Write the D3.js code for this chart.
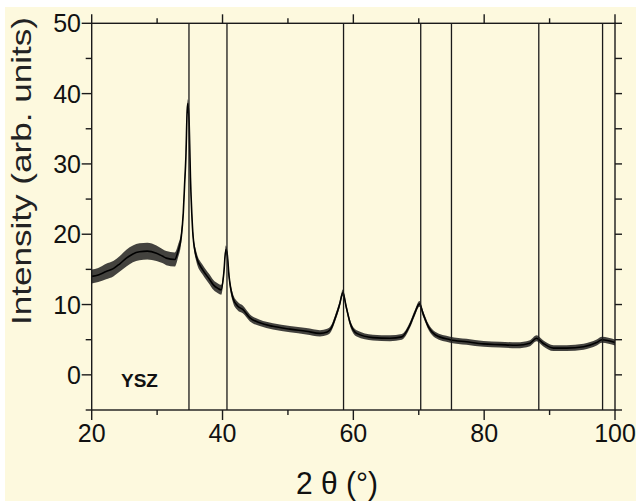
<!DOCTYPE html>
<html><head><meta charset="utf-8">
<script src="https://cdn.jsdelivr.net/npm/d3@7"></script>
<style>html,body{margin:0;padding:0;background:#fff;}svg{display:block;}</style>
</head><body>
<svg id="c" width="636" height="503"></svg>
<script>
// 2θ positions (degrees) and intensities (arb. units)
const twoTheta = [20.0,21.0,22.2,23.3,24.3,25.3,26.3,27.3,28.5,29.9,30.8,31.4,32.7,33.2,33.7,34.0,34.2,34.4,34.6,34.7,34.9,35.1,35.3,35.5,36.0,37.0,38.0,38.6,39.3,39.8,40.2,40.5,40.7,41.0,41.6,42.3,43.1,44.2,45.7,47.7,50.3,52.8,54.9,56.0,56.6,57.2,57.9,58.4,58.9,59.5,60.5,63.0,65.6,67.4,68.6,69.4,70.1,70.7,71.5,72.5,74.8,77.3,79.9,82.4,85.0,87.0,88.0,89.0,90.6,92.6,95.2,97.2,98.0,100.0];
const intensity = [14.0,14.2,14.7,15.1,15.8,16.6,17.2,17.5,17.6,17.3,16.9,16.6,16.4,17.6,19.7,23.0,27.0,31.0,37.7,38.6,35.8,28.0,23.0,19.7,16.8,14.9,13.6,12.8,12.3,12.1,14.5,17.8,17.3,14.0,10.9,9.8,9.3,8.1,7.4,6.9,6.5,6.2,5.9,6.1,6.6,8.0,10.0,11.7,9.7,7.4,5.9,5.3,5.2,5.4,7.0,8.8,10.1,8.6,6.8,5.7,5.0,4.7,4.4,4.3,4.2,4.5,5.2,4.5,3.8,3.8,4.0,4.6,5.0,4.6];
// half-width of the noise band seen around the trace
const noise = [1.0,1.0,1.1,1.1,1.1,1.2,1.2,1.2,1.2,1.1,1.0,1.0,1.0,0.9,0.8,0.6,0.6,0.6,0.6,0.6,0.6,0.6,0.6,0.6,0.7,0.7,0.7,0.7,0.7,0.7,0.6,0.6,0.6,0.6,0.6,0.6,0.55,0.5,0.45,0.45,0.45,0.45,0.45,0.45,0.45,0.45,0.45,0.45,0.45,0.45,0.45,0.42,0.42,0.42,0.42,0.42,0.42,0.42,0.42,0.42,0.42,0.42,0.42,0.42,0.42,0.42,0.42,0.42,0.42,0.42,0.42,0.42,0.42,0.42];
// vertical reference lines (2θ)
const refLines = [34.87, 40.68, 58.5, 70.3, 75.0, 88.35, 98.1];
const xMajor = [20,40,60,80,100];
const xMinor = [30,50,70,90];
const yMajor = [0,10,20,30,40,50];
const yMinor = [-5,5,15,25,35,45];
const xTitle = "2 θ (°)";
const yTitle = "Intensity (arb. units)";
const sampleLabel = "YSZ";

const svg = d3.select("#c");
const ink = "#1a1a1a";
svg.append("rect").attr("x",5).attr("y",7).attr("width",631).attr("height",494).attr("fill","#fdf9de");

const L=91.7, R=615, T=23.3, B=410;
const x = d3.scaleLinear().domain([20,100]).range([L,R]);
const y = d3.scaleLinear().domain([-5,50]).range([B,T]);

const data = twoTheta.map((t,i)=>({t, v:intensity[i], n:noise[i]}));

// noise band
svg.append("path").datum(data)
  .attr("d", d3.area().x(d=>x(d.t)).y0(d=>y(d.v-d.n)).y1(d=>y(d.v+d.n)).curve(d3.curveMonotoneX))
  .attr("fill","#222").attr("fill-opacity",0.85);
svg.append("path").datum(data)
  .attr("d", d3.line().x(d=>x(d.t)).y(d=>y(d.v)).curve(d3.curveMonotoneX))
  .attr("fill","none").attr("stroke","#000").attr("stroke-width",1.6);

// reference lines
svg.append("g").selectAll("line").data(refLines).join("line")
  .attr("x1",d=>x(d)).attr("x2",d=>x(d)).attr("y1",T).attr("y2",B)
  .attr("stroke",ink).attr("stroke-width",1.3);

// frame
svg.append("rect").attr("x",L).attr("y",T).attr("width",R-L).attr("height",B-T)
  .attr("fill","none").attr("stroke",ink).attr("stroke-width",1.4);

const tg = svg.append("g").attr("stroke",ink).attr("stroke-width",1.4);
function ticks(vals, fn){ vals.forEach(v=>{ const a=fn(v); tg.append("line").attr("x1",a[0]).attr("y1",a[1]).attr("x2",a[2]).attr("y2",a[3]); }); }
ticks(xMajor, v=>[x(v),B,x(v),B+10]);
ticks(xMinor, v=>[x(v),B,x(v),B+5]);
ticks(xMajor, v=>[x(v),T,x(v),T-9]);
ticks(xMinor, v=>[x(v),T,x(v),T-5]);
ticks(yMajor, v=>[L,y(v),L-10,y(v)]);
ticks(yMinor, v=>[L,y(v),L-6,y(v)]);
ticks(yMajor.concat(yMinor), v=>[R,y(v),R+7,y(v)]);

const font = "Liberation Sans, Arial, Helvetica, sans-serif";
svg.append("g").selectAll("text").data(xMajor).join("text")
  .attr("x",d=>x(d)).attr("y",442).attr("text-anchor","middle")
  .attr("font-family",font).attr("font-size",25).attr("fill","#111").text(d=>d);
svg.append("g").selectAll("text").data(yMajor).join("text")
  .attr("x",81).attr("y",d=>y(d)+9).attr("text-anchor","end")
  .attr("font-family",font).attr("font-size",25).attr("fill","#111").text(d=>d);

svg.append("text").attr("transform","translate(31,171) rotate(-90)")
  .attr("text-anchor","middle").attr("font-family",font).attr("font-size",28)
  .attr("textLength",308).attr("lengthAdjust","spacingAndGlyphs").attr("fill","#222").text(yTitle);

svg.append("text").attr("x",296).attr("y",494)
  .attr("font-family",font).attr("font-size",32)
  .attr("textLength",82).attr("lengthAdjust","spacingAndGlyphs").attr("fill","#111").text(xTitle);

svg.append("text").attr("x",121).attr("y",387)
  .attr("font-family",font).attr("font-size",19).attr("font-weight","bold")
  .attr("fill","#111").text(sampleLabel);
</script>
</body></html>
